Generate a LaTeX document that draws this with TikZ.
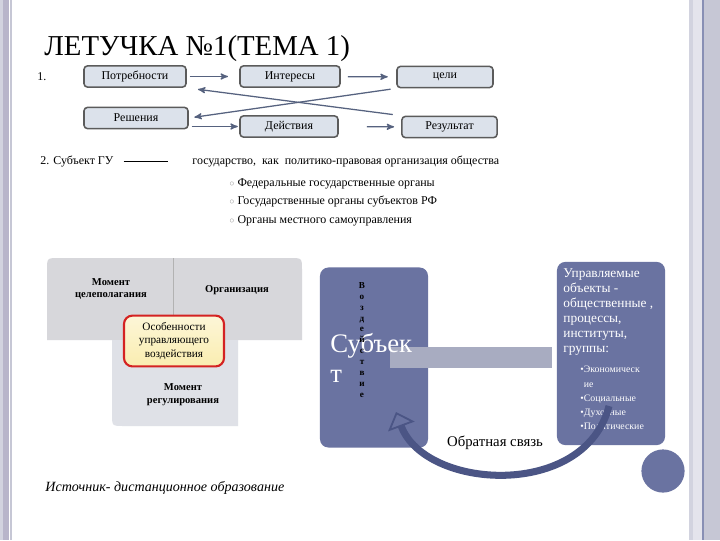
\documentclass[tikz,border=0pt]{standalone}
\usepackage{fontspec}
\setmainfont{Liberation Serif}
\usepackage{tikz}
\usetikzlibrary{
    arrows,
    arrows.meta
}

\definecolor{slate}{HTML}{6A73A1}
\definecolor{boxfill}{HTML}{DCE2EB}
\definecolor{boxline}{HTML}{5B5B5B}
\definecolor{linkc}{HTML}{56627F}
\definecolor{quad}{HTML}{D7D7DB}
\definecolor{quadlow}{HTML}{DFE1E7}
\definecolor{hotline}{HTML}{D42222}
\definecolor{hotfill}{HTML}{FAEDB0}
\definecolor{barc}{HTML}{A8ACC1}
\definecolor{loopc}{HTML}{4B5585}
\definecolor{framea}{HTML}{B8B5CA}
\definecolor{frameb}{HTML}{C6C7D5}
\definecolor{framec}{HTML}{D2D3DF}

\newcommand{\fs}[2]{\fontsize{#1}{#2}\selectfont}

\begin{document}
\begin{tikzpicture}[x=0.025cm, y=-0.025cm, >=stealth', semithick]
    \tikzstyle{topbox}=[draw=boxline, line width=1.1pt, fill=boxfill, rounded corners=2.5pt, minimum height=0.53cm, font=\fs{8.5}{10}]
    \tikzstyle{link}=[->, draw=linkc, line width=0.9pt, shorten <=2pt, shorten >=6pt]
    \tikzstyle{plain}=[anchor=base west, inner sep=0pt, font=\fs{8.5}{10}]
    \tikzstyle{slatebox}=[fill=slate, rounded corners=6pt]
    \tikzstyle{quadtext}=[font=\bfseries\fs{7.5}{9}, align=center]
    \tikzstyle{hotbox}=[draw=hotline, line width=1.5pt, top color=hotfill!50, bottom color=hotfill, rounded corners=6pt, minimum width=2.5cm, minimum height=1.27cm, align=center, font=\fs{8}{9.5}]
    \useasboundingbox (0,0) rectangle (720,540);
    \fill[white] (0,0) rectangle (720,540);
    \fill[framec] (0,0) rectangle (3,540);
    \fill[framea] (3,0) rectangle (9,540);
    \fill[frameb] (10,0) rectangle (12,540);
    \fill[framec] (689,0) rectangle (693,540);
    \fill[framec!60] (693,0) rectangle (702,540);
    \fill[slate!80] (702,0) rectangle (703.5,540);
    \fill[frameb] (703.5,0) rectangle (720,540);
    \node[anchor=base west, inner sep=0pt, font=\fs{20.5}{24}] (title) at (44,55) {ЛЕТУЧКА №1(ТЕМА 1)};
    \node[plain] (one) at (37,80) {1.};
    \node[topbox, minimum width=2.55cm] (potr) at (135,76.5) {Потребности};
    \node[topbox, minimum width=2.5cm] (inter) at (290,76.5) {Интересы};
    \node[topbox, minimum width=2.4cm] (celi) at (445,77) {цели};
    \node[topbox, minimum width=2.6cm] (resh) at (136,118) {Решения};
    \node[topbox, minimum width=2.45cm] (deist) at (289,126.5) {Действия};
    \node[topbox, minimum width=2.38cm] (rez) at (449.5,127) {Результат};
    \path (potr) edge[link, shorten >=8pt] (inter);
    \path (inter) edge[link, shorten <=5pt] (celi);
    \path (celi.south west) edge[link, shorten <=4pt, shorten >=4pt] (resh.east);
    \path (rez.north west) edge[link, shorten <=6pt, shorten >=8pt] (potr.south east);
    \path (resh.east |- deist.west) edge[link, shorten >=1pt] (deist.west);
    \path (deist) edge[link, shorten <=20pt, shorten >=5pt] (rez);
    \node[plain] (subgu) at (40,164) {2. Субъект ГУ};
    \node[plain] (gos) at (192,164) {государство,\ \ как\ \ политико-правовая организация общества};
    \path (subgu) edge[shorten <=7pt, shorten >=17pt, thin] (gos);
    \node[plain] (fed) at (229,186) {{\color{gray}\fs{6}{6}○}\ Федеральные государственные органы};
    \node[plain] (rf) at (229,204) {{\color{gray}\fs{6}{6}○}\ Государственные органы субъектов РФ};
    \node[plain] (mest) at (229,223) {{\color{gray}\fs{6}{6}○}\ Органы местного самоуправления};
    \fill[quad] (47,340) -- (47,270) .. controls (47,258) .. (59,258) -- (173,258) -- (173,340) -- cycle;
    \fill[quad] (173,258) -- (290,258) .. controls (302,258) .. (302,270) -- (302,340) -- (173,340) -- cycle;
    \fill[quadlow] (112,340) -- (238,340) -- (238,426) -- (124,426) .. controls (112,426) .. (112,414) -- cycle;
    \draw[gray!60, thin] (173,258) -- (173,318);
    \node[quadtext] (goal) at (111,289) {Момент\\целеполагания};
    \node[quadtext] (org) at (237,290) {Организация};
    \node[quadtext] (reg) at (183,395) {Момент\\регулирования};
    \node[hotbox] (feat) at (174,341) {Особенности\\управляющего\\воздействия};
    \node[slatebox, minimum width=2.7cm, minimum height=4.5cm] (subj) at (374,357.5) {};
    \node[slatebox, minimum width=2.7cm, minimum height=4.58cm] (upr) at (611,353.5) {};
    \path (subj.east) edge[draw=barc, line width=15.5pt, shorten <=-27pt, shorten >=3pt] (subj.east -| upr.west);
    \node[anchor=north west, inner sep=0pt, text=white, font=\fs{19}{21}, align=left] (subjt) at (330,333) {Субъек\\т};
    \node[inner sep=0pt, font=\bfseries\fs{6.5}{7.8}, align=center] (act) at (362,340) {В\\о\\з\\д\\е\\й\\с\\т\\в\\и\\е};
    \node[anchor=north west, inner sep=0pt, text=white, font=\fs{9.5}{10.7}, align=left] (uprt) at (563,268) {Управляемые\\объекты -\\общественные ,\\процессы,\\институты,\\группы:};
    \node[anchor=north west, inner sep=0pt, text=white, font=\fs{7}{10}, align=left] (kinds) at (580,366) {•Экономическ\\\phantom{•}ие\\•Социальные\\•Духовные\\•Политические};
    \node[circle, fill=slate, minimum size=1.08cm, inner sep=0pt] (dot) at (663,471) {};
    \coordinate (fbs) at (609,406);
    \coordinate (fbe) at (396,412);
    \draw[loopc, line width=5pt, -{Triangle[open, length=11pt, width=20pt, line width=1.3pt 0]}] (fbs) .. controls (585,500) and (425,490) .. (fbe);
    \node[font=\fs{10.5}{12}] (fbl) at (495,443) {Обратная связь};
    \node[plain, font=\itshape\fs{10}{12}] (src) at (45,491) {Источник- дистанционное образование};
\end{tikzpicture}
\end{document}
